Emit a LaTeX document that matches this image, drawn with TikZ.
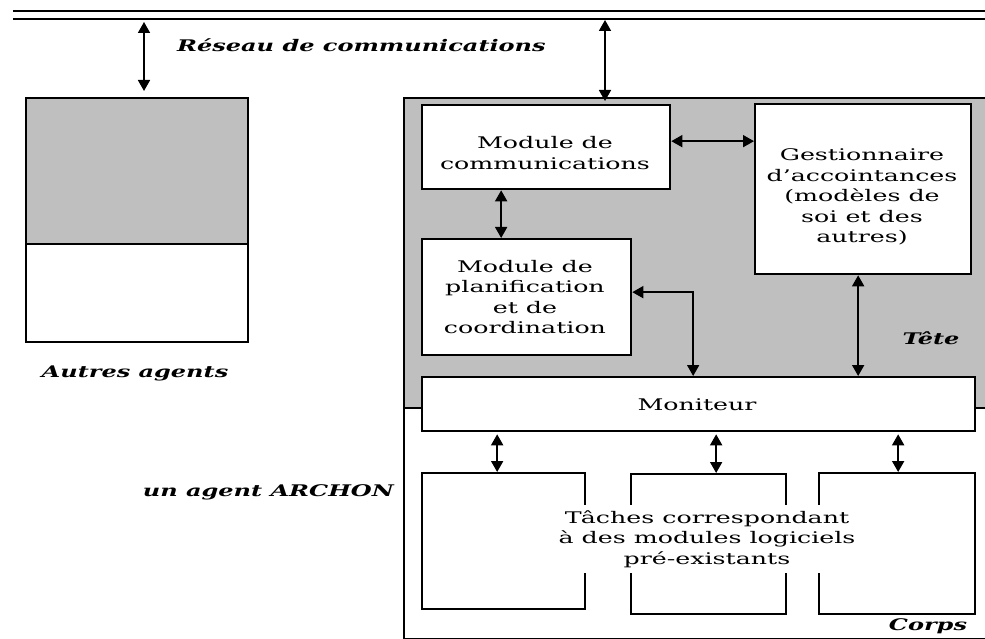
\documentclass[tikz,border=0pt]{standalone}
\usepackage{fontspec}
\setmainfont{DejaVu Serif}[FakeStretch=1.58]
\newfontfamily\tagfamily{DejaVu Serif}[FakeStretch=1.5]
\usetikzlibrary{arrows.meta}

\begin{document}
\begin{tikzpicture}[x=1pt,y=-1pt,
  font=\fontsize{16}{20.5}\selectfont,
  box/.style={draw, line width=2.3pt, fill=white, anchor=north west, inner sep=0pt},
  headfill/.style={fill=black!25},
  txt/.style={align=center, inner sep=0pt},
  biarrow/.style={{Triangle[length=11pt,width=12pt]}-{Triangle[length=11pt,width=12pt]}, line width=1.7pt},
  tag/.style={inner sep=0pt, font=\tagfamily\fontsize{16}{20}\selectfont\bfseries\itshape}]
\useasboundingbox (0,0) rectangle (985,639);
\clip (0,0) rectangle (985,639);

% communication network (double rail)
\draw[line width=1.8pt] (13,11) coordinate (railA) -- (985,11);
\draw[line width=1.8pt] (13,19) coordinate (railB) -- (985,19);
\coordinate (linkA) at (144,22);
\coordinate (linkB) at (605,20);
\node[tag, anchor=west] (reseau) at (177,45) {Réseau de communications};

% other agents
\node[box, headfill, minimum width=222pt, minimum height=146pt] (autresTete) at (25,97) {};
\node[box, minimum width=222pt, minimum height=98pt] (autresCorps) at (25,243) {};
\node[tag] (autresLabel) at (135,373) {Autres agents};

% ARCHON agent: head and body
\node[box, headfill, minimum width=600pt, minimum height=310pt] (tete) at (403,97) {};
\node[box, minimum width=600pt, minimum height=231pt] (corps) at (403,407) {};
\node[tag, anchor=east] (agentLabel) at (394,492) {un agent ARCHON};
\node[tag] (teteLabel) at (931,338) {Tête};
\node[tag] (corpsLabel) at (928,626) {Corps};

% head modules
\node[box, minimum width=248pt, minimum height=84pt] (comm) at (421,104) {};
\node[txt] (commText) at (545,153) {Module de\\communications};
\node[box, minimum width=216pt, minimum height=170pt] (gest) at (754,103) {};
\node[txt] (gestText) at (862,197) {Gestionnaire\\d'accointances\\(modèles de\\soi et des\\autres)};
\node[box, minimum width=209pt, minimum height=116pt] (planif) at (421,238) {};
\node[txt] (planifText) at (525,297) {Module de\\planification\\et de\\coordination};
\node[box, minimum width=553pt, minimum height=54pt] (moniteur) at (421,376) {};
\node[txt] (moniteurText) at (697,405) {Moniteur};

% body tasks
\node[box, minimum width=163pt, minimum height=136pt] (task1) at (421,472) {};
\node[box, minimum width=155pt, minimum height=140pt] (task2) at (630,473) {};
\node[box, minimum width=156pt, minimum height=141pt] (task3) at (818,472) {};
\node[txt, fill=white, minimum width=290pt, minimum height=68pt] (taches) at (707,539)
  {Tâches correspondant\\à des modules logiciels\\pré-existants};

% links
\draw[biarrow, shorten >=6pt] (linkA) -- (linkA |- autresTete.north);
\draw[biarrow, shorten >=3pt] (linkB) -- (linkB |- comm.north);
\draw[biarrow] ([yshift=6pt]comm.east) -- ([yshift=6pt]comm.east -| gest.west);
\draw[biarrow] ([xshift=-45pt]comm.south) -- ([xshift=-45pt]comm.south |- planif.north);
\draw[biarrow] ([yshift=5pt]planif.east) -| ([xshift=-5.5pt]moniteur.north);
\draw[biarrow] ([xshift=-5pt]gest.south) -- ([xshift=-5pt]gest.south |- moniteur.north);
\draw[biarrow, shorten <=2pt] ([xshift=-6.5pt]task1.north |- moniteur.south) -- ([xshift=-6.5pt]task1.north);
\draw[biarrow, shorten <=2pt] ([xshift=7.5pt]task2.north |- moniteur.south) -- ([xshift=7.5pt]task2.north);
\draw[biarrow, shorten <=2pt] ([xshift=1pt]task3.north |- moniteur.south) -- ([xshift=1pt]task3.north);
\end{tikzpicture}
\end{document}
